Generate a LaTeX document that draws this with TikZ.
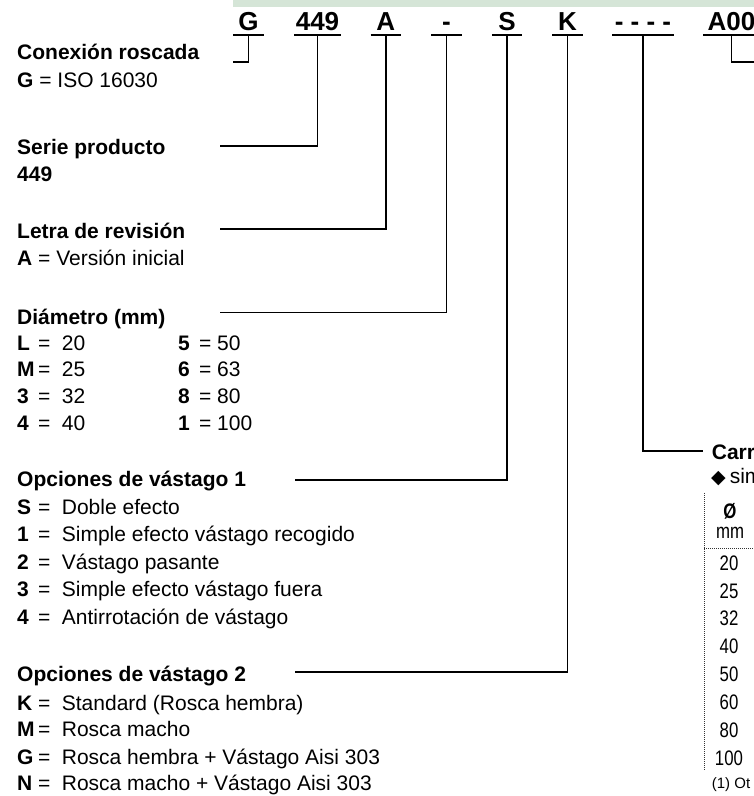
\documentclass[tikz,border=0pt]{standalone}
\usepackage{fontspec}
\setmainfont{Liberation Sans}
\newfontfamily\estrecha[FakeStretch=0.8]{Liberation Sans}
\newfontfamily\simbolos{DejaVu Sans}
\definecolor{verdeclaro}{RGB}{213,229,215}
% clave en negrita, signo igual y texto en columnas fijas
\newcommand{\opcion}[3][23.7pt]{\makebox[21pt][l]{\textbf{#2}}\makebox[#1][l]{=}#3}
\tikzset{
  codigo/.style={font=\fontsize{26}{30}\selectfont\bfseries, anchor=base, inner xsep=0pt, inner ysep=4pt, text depth=0pt},
  texto/.style={font=\fontsize{21}{25}\selectfont, anchor=base west, inner sep=0pt},
  titulo/.style={texto, font=\fontsize{21}{25}\selectfont\bfseries},
  tabla/.style={font=\fontsize{21}{25}\selectfont\estrecha, anchor=base, inner sep=0pt},
  subrayado/.style={line width=2.6pt},
  linea/.style={line width=1.8pt},
  punteado/.style={line width=0.7pt, dash pattern=on 1pt off 1pt, black!80}
}
\begin{document}
\begin{tikzpicture}[x=1pt,y=-1pt]
        \useasboundingbox (0,0) rectangle (754,796);
        \clip (0,0) rectangle (754,796);
        \fill[verdeclaro] (233,0) rectangle (754,7);

        % Código del producto
        \node[codigo, minimum width=30](nG) at (248.5,30.7) {G};
        \node[codigo, minimum width=46](n449) at (317.5,30.7) {449};
        \node[codigo, minimum width=30](nA) at (385.7,30.7) {A};
        \node[codigo, minimum width=30](nGuion) at (446.5,30.7) {-};
        \node[codigo, minimum width=30](nS) at (507,30.7) {S};
        \node[codigo, minimum width=30](nK) at (567.5,30.7) {K};
        \node[codigo, minimum width=61](nCarrera) at (643,30.7) {- - - -};
        \node[codigo, minimum width=56](nA00) at (731.5,30.7) {A00};

        \draw[subrayado] (nG.south west)--(nG.south east);
        \draw[subrayado] (n449.south west)--(n449.south east);
        \draw[subrayado] (nA.south west)--(nA.south east);
        \draw[subrayado] (nGuion.south west)--(nGuion.south east);
        \draw[subrayado] (nS.south west)--(nS.south east);
        \draw[subrayado] (nK.south west)--(nK.south east);
        \draw[subrayado] (nCarrera.south west)--(nCarrera.south east);
        \draw[subrayado] (nA00.south west)--(nA00.south east);

        % Extremos de las líneas
        \coordinate (fG) at (233,62);
        \coordinate (f449) at (220,146);
        \coordinate (fA) at (220,229);
        \coordinate (fDiametro) at (220,312.5);
        \coordinate (fS) at (295,480);
        \coordinate (fK) at (295,671.7);
        \coordinate (fCarrera) at (703.3,451.2);
        \coordinate (fA00) at (760,62.3);

        % Líneas de conexión
        \draw[linea] (nG.south) |- (fG);
        \draw[linea] (n449.south) |- (f449);
        \draw[linea] (nA.south) |- (fA);
        \draw[linea] (nGuion.south) |- (fDiametro);
        \draw[linea] (nS.south) |- (fS);
        \draw[linea] (nK.south) |- (fK);
        \draw[linea] (nCarrera.south) |- (fCarrera);
        \draw[linea] (nA00.south) |- (fA00);

        % Leyenda de la izquierda
        \node[titulo](tConexion) at (17,59) {Conexión roscada};
        \node[texto](vConexion) at (17,87) {\textbf{G} = ISO 16030};
        \node[titulo](tSerie) at (17,154) {Serie producto};
        \node[titulo](vSerie) at (17,181.5) {449};
        \node[titulo](tRevision) at (17,238.3) {Letra de revisión};
        \node[texto](vRevision) at (17,265) {\textbf{A} = Versión inicial};

        \node[titulo](tDiametro) at (17,324) {Diámetro (mm)};
        \node[texto](dL) at (17,350) {\opcion{L}{20}};
        \node[texto](dM) at (17,376.5) {\opcion{M}{25}};
        \node[texto](d3) at (17,403) {\opcion{3}{32}};
        \node[texto](d4) at (17,430) {\opcion{4}{40}};
        \node[texto](d5) at (178,350) {\opcion[18pt]{5}{50}};
        \node[texto](d6) at (178,376.5) {\opcion[18pt]{6}{63}};
        \node[texto](d8) at (178,403) {\opcion[18pt]{8}{80}};
        \node[texto](d1) at (178,430) {\opcion[18pt]{1}{100}};

        \node[titulo](tVastago1) at (17,486) {Opciones de vástago 1};
        \node[texto](oS) at (17,514) {\opcion{S}{Doble efecto}};
        \node[texto](o1) at (17,541.7) {\opcion{1}{Simple efecto vástago recogido}};
        \node[texto](o2) at (17,569.3) {\opcion{2}{Vástago pasante}};
        \node[texto](o3) at (17,596.7) {\opcion{3}{Simple efecto vástago fuera}};
        \node[texto](o4) at (17,624) {\opcion{4}{Antirrotación de vástago}};

        \node[titulo](tVastago2) at (17,681.7) {Opciones de vástago 2};
        \node[texto](oK) at (17,710) {\opcion{K}{Standard (Rosca hembra)}};
        \node[texto](oM) at (17,736.7) {\opcion{M}{Rosca macho}};
        \node[texto](oG) at (17,764) {\opcion{G}{Rosca hembra + Vástago Aisi 303}};
        \node[texto](oN) at (17,790.7) {\opcion{N}{Rosca macho + Vástago Aisi 303}};

        % Carrera y tabla (cortadas por el borde)
        \node[titulo](tCarrera) at (711.7,459.3) {Carr};
        \node[texto](tSim) at (711,483) {{\simbolos\fontsize{19}{22}\selectfont ◆}\hspace{4pt}sim};
        \draw[punteado] (704,493.3)--(704,770.7);
        \draw[punteado] (704,548.3)--(754,548.3);
        \node[tabla, font=\fontsize{21}{25}\selectfont\bfseries\estrecha](hDiam) at (730,518) {Ø};
        \node[tabla](hMm) at (730,538) {mm};
        \node[tabla](r20) at (729,570.7) {20};
        \node[tabla](r25) at (729,598.3) {25};
        \node[tabla](r32) at (729,625) {32};
        \node[tabla](r40) at (729,653.3) {40};
        \node[tabla](r50) at (729,681.7) {50};
        \node[tabla](r60) at (729,709.3) {60};
        \node[tabla](r80) at (729,737.3) {80};
        \node[tabla](r100) at (729,765) {100};
        \node[texto, font=\fontsize{15}{18}\selectfont](nota) at (711.7,788) {(1) Ot};
    \end{tikzpicture}
\end{document}
